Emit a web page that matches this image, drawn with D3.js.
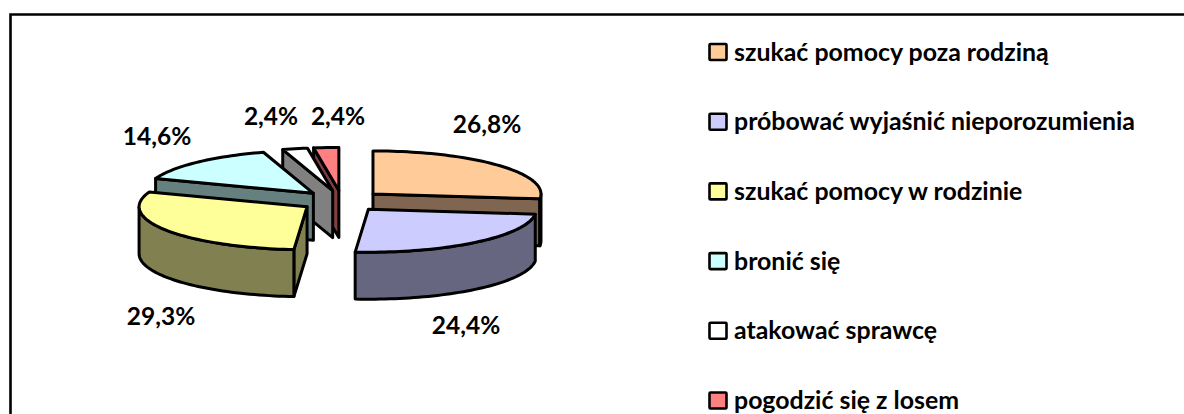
<!DOCTYPE html>
<html><head><meta charset="utf-8">
<script src="https://cdn.jsdelivr.net/npm/d3@7/dist/d3.min.js"></script>
<style>html,body{margin:0;padding:0;background:#fff}svg{display:block}text{font-family:Lato,"Open Sans",sans-serif;font-weight:700;fill:#000}</style>
</head><body><svg id="c" width="1184" height="414"></svg>
<script>
const categories = ["szukać pomocy poza rodziną","próbować wyjaśnić nieporozumienia","szukać pomocy w rodzinie","bronić się","atakować sprawcę","pogodzić się z losem"];
const values = [26.8,24.4,29.3,14.6,2.4,2.4];
const valueLabels = ["26,8%","24,4%","29,3%","14,6%","2,4%","2,4%"];
const topColors = ["#FFCC99","#CCCCFF","#FFFF99","#CCFFFF","#FFFFFF","#FF8080"];
const sideColors = ["#806650","#666680","#808050","#668080","#808080","#804040"];

const W=1184,H=414;
const svg=d3.select("#c");
const cx=342,cy=201,rx=168,ry=43,depth=47,explode=41.5;
const pie=d3.pie().sort(null).value(d=>d).startAngle(0).endAngle(2*Math.PI);
const arcs=pie(values).map((d,i)=>{
  const mid=(d.startAngle+d.endAngle)/2;
  return {i,a0:d.startAngle,a1:d.endAngle,
    x:cx+explode*Math.sin(mid),y:cy-explode*Math.cos(mid)*ry/rx};
});
function rim(s,a,dy=0){return [s.x+rx*Math.sin(a),s.y-ry*Math.cos(a)+dy];}
function sample(a0,a1,dy,s){
  const n=Math.max(2,Math.ceil((a1-a0)/0.03));
  return d3.range(n+1).map(k=>rim(s,a0+(a1-a0)*k/n,dy));
}
const line=d3.line();
const stroke={stroke:"#000","stroke-width":3,"stroke-linejoin":"round"};
function poly(g,pts,fill){
  const p=g.append("path").attr("d",line(pts)+"Z").attr("fill",fill);
  Object.entries(stroke).forEach(([k,v])=>p.attr(k,v));
}
const PI=Math.PI;
// frame, open at the right and bottom
svg.append("path").attr("d",`M${W},14.5H10.5V${H}`).attr("fill","none").attr("stroke","#000").attr("stroke-width",2.6);

// back-to-front
const order=[5,4,3,0,2,1];
order.forEach(i=>{
  const s=arcs[i],g=svg.append("g"),c=[s.x,s.y];
  const rad=a=>[c,rim(s,a),rim(s,a,depth),[s.x,s.y+depth]];
  if(s.a1>0&&s.a1<PI) poly(g,rad(s.a1),sideColors[i]);
  if(s.a0>PI&&s.a0<2*PI) poly(g,rad(s.a0),sideColors[i]);
  const w0=Math.max(s.a0,PI/2),w1=Math.min(s.a1,3*PI/2);
  if(w1>w0){
    poly(g,sample(w0,w1,0,s).concat(sample(w0,w1,depth,s).reverse()),sideColors[i]);
  }
  poly(g,[c].concat(sample(s.a0,s.a1,0,s)),topColors[i]);
});

// value labels
const labelPos=d3.scaleOrdinal().domain(d3.range(6)).range([[487,124],[466,325],[161,316],[157,136],[271,116],[338,116]]);
svg.selectAll("text.v").data(valueLabels).join("text").attr("class","v")
  .attr("x",(d,i)=>labelPos(i)[0]).attr("y",(d,i)=>labelPos(i)[1]+9)
  .attr("text-anchor","middle").attr("font-size",24.5).text(d=>d);

// legend
const ly=d3.scalePoint().domain(d3.range(6)).range([52,400.5]);
const leg=svg.selectAll("g.l").data(categories).join("g").attr("class","l")
  .attr("transform",(d,i)=>`translate(0,${ly(i)})`);
leg.append("rect").attr("x",709.5).attr("y",-8).attr("width",17).attr("height",16).attr("rx",1)
  .attr("fill",(d,i)=>topColors[i]).attr("stroke","#000").attr("stroke-width",2.6);
leg.append("text").attr("x",734).attr("y",8.5).attr("font-size",24.9).text(d=>d);
</script></body></html>
